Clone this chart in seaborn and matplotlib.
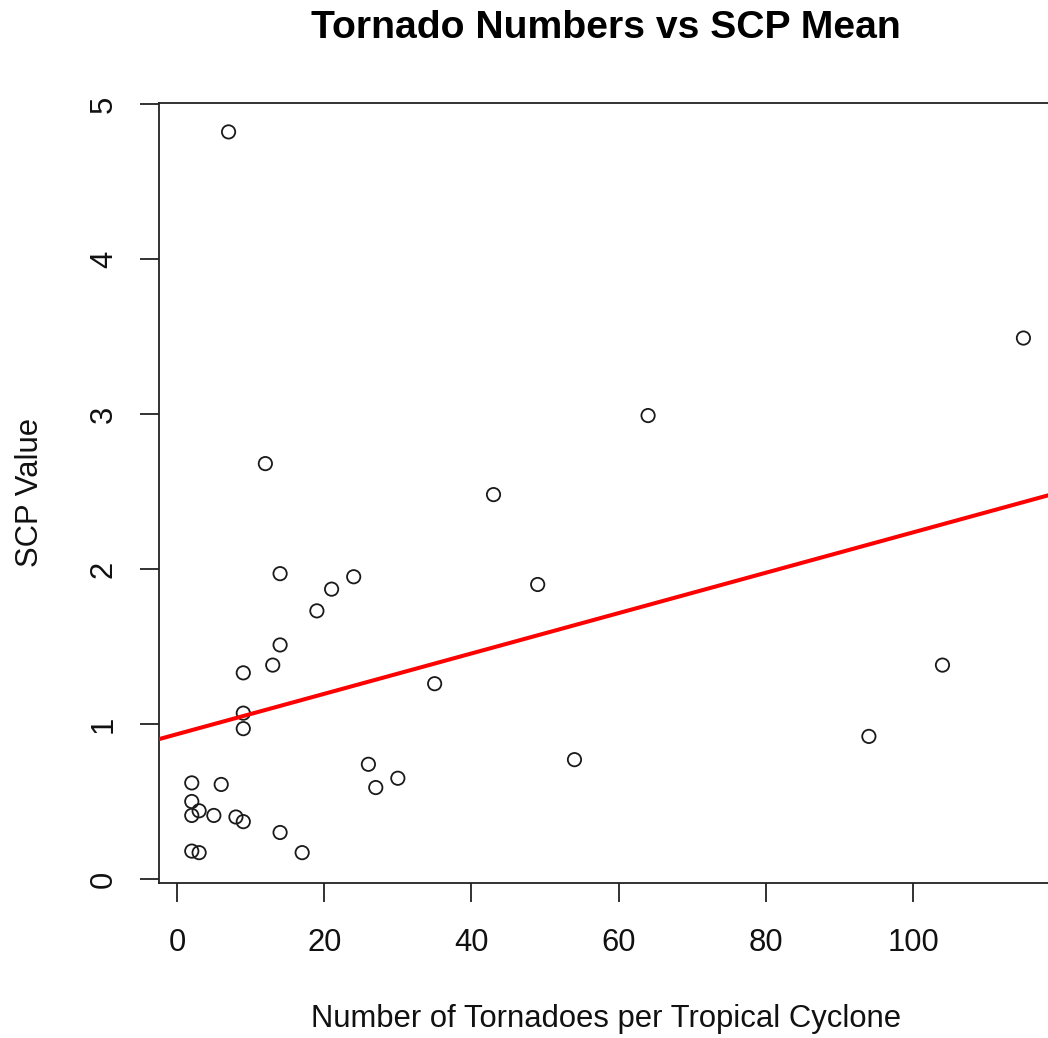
import numpy as np
import pandas as pd
import matplotlib
matplotlib.use("Agg")
import matplotlib.pyplot as plt
import seaborn as sns

# Data
tornadoes = [7, 115, 64, 12, 43, 14, 24, 21, 49, 19, 14, 13, 9, 104, 35, 9, 9, 94,
             54, 26, 30, 27, 2, 6, 2, 2, 3, 5, 8, 9, 14, 2, 3, 17]
scp_mean = [4.82, 3.49, 2.99, 2.68, 2.48, 1.97, 1.95, 1.87, 1.90, 1.73, 1.51, 1.38,
            1.33, 1.38, 1.26, 1.07, 0.97, 0.92, 0.77, 0.74, 0.65, 0.59, 0.62, 0.61,
            0.50, 0.41, 0.44, 0.41, 0.40, 0.37, 0.30, 0.18, 0.17, 0.17]
x_ticks = [0, 20, 40, 60, 80, 100]
y_ticks = [0, 1, 2, 3, 4, 5]

title = "Tornado Numbers vs SCP Mean"
x_label = "Number of Tornadoes per Tropical Cyclone"
y_label = "SCP Value"

df = pd.DataFrame({"tornadoes": tornadoes, "scp": scp_mean})

sns.set_style("ticks")
plt.rcParams["font.family"] = ["Liberation Sans", "DejaVu Sans"]

W, H = 1048, 1038
fig = plt.figure(figsize=(W / 100, H / 100), dpi=100)
fig.patch.set_facecolor("white")

# axes box in pixel coordinates (right edge extends beyond the figure, as in the crop)
left_px, right_px, top_px, bottom_px = 158.5, 1056.7, 102.5, 882.5
ax = fig.add_axes([left_px / W, 1 - bottom_px / H,
                   (right_px - left_px) / W, (bottom_px - top_px) / H])

xlim = (-2.52, 119.52)
ylim = (-0.0226, 5.0097)
ax.set_xlim(*xlim)
ax.set_ylim(*ylim)

sns.scatterplot(data=df, x="tornadoes", y="scp", ax=ax, s=92,
                facecolors="none", edgecolor="#1a1a1a", linewidth=1.3, zorder=3)
ax.set_xlim(*xlim)
sns.regplot(data=df, x="tornadoes", y="scp", ax=ax, scatter=False, ci=None,
            truncate=False, line_kws=dict(color="#ff0000", lw=2.9, zorder=4))
ax.set_xlim(*xlim)
ax.set_ylim(*ylim)

ax.set_xticks(x_ticks)
ax.set_yticks(y_ticks)
ax.set_xticklabels([str(t) for t in x_ticks])
ax.set_yticklabels([str(t) for t in y_ticks], rotation=90, va="center")
ax.tick_params(axis="both", direction="out", length=13.5, width=1.3, color="#222222",
               labelsize=22.3, labelcolor="#111111")
ax.tick_params(axis="x", pad=19)
ax.tick_params(axis="y", pad=15)
ax.set_xlabel("")
ax.set_ylabel("")
for side in ["left", "right", "top", "bottom"]:
    ax.spines[side].set_visible(True)
    ax.spines[side].set_linewidth(1.3)
    ax.spines[side].set_color("#222222")
ax.grid(False)

cx = (left_px + right_px) / 2 / W - 0.0012
fig.text(cx, 1 - 38 / H, title, ha="center", va="baseline",
         fontsize=28.2, fontweight="bold", color="black")
fig.text(cx, 1 - 1027 / H, x_label, ha="center", va="baseline",
         fontsize=22.3, color="#111111")
fig.text(38 / W, 1 - 492.5 / H, y_label, ha="center", va="baseline",
         rotation=90, rotation_mode="anchor", fontsize=22.3, color="#111111")

fig.savefig("out.png", dpi=100, facecolor="white")
